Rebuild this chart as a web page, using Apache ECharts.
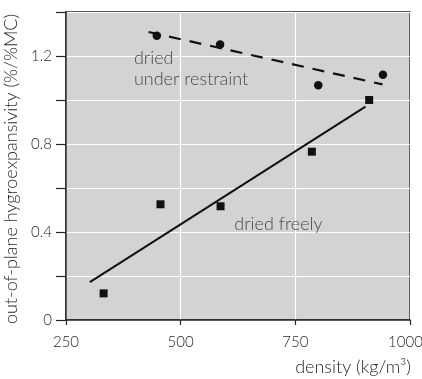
<!DOCTYPE html>
<html>
<head>
<meta charset="utf-8">
<script src="https://cdn.jsdelivr.net/npm/echarts@6/dist/echarts.min.js"></script>
<style>html,body{margin:0;padding:0;background:#fff}#c{width:422px;height:379px}</style>
</head>
<body>
<div id="c"></div>
<script>
const restraintPoints = [[448, 1.292], [586, 1.252], [800, 1.067], [941, 1.115]];
const freelyPoints = [[332, 0.121], [456, 0.526], [587, 0.517], [786, 0.765], [911, 1.0]];
const restraintFit = [[430, 1.309], [940, 1.071]];
const freelyFit = [[302, 0.172], [903, 0.970]];
const yTickLabels = {0: '0', 0.4: '0.4', 0.8: '0.8', 1.2: '1.2'};
const xTickLabels = [250, 500, 750, 1000];
const annotations = [
  {value: [398, 1.144], text: 'dried\nunder restraint'},
  {value: [617, 0.435], text: 'dried freely'}
];

const FONT = 'Lato';
const TXT = '#262626';
const chart = echarts.init(document.getElementById('c'), null, {renderer: 'canvas'});
chart.setOption({
  animation: false,
  grid: {left: 66, right: 12, top: 12, bottom: 59, outerBoundsMode: 'none', containLabel: false,
    show: true, backgroundColor: '#d3d3d3', borderColor: '#262626', borderWidth: 1.5},
  xAxis: {
    type: 'value', min: 250, max: 1000, interval: 250,
    axisLine: {show: true, onZero: false, lineStyle: {color: '#262626', width: 1.5}},
    axisTick: {show: true, inside: false, length: 5, lineStyle: {color: '#262626', width: 1.2}},
    axisLabel: {color: TXT, fontFamily: FONT, fontWeight: 300, fontSize: 15, margin: 15,
      formatter: v => xTickLabels.includes(v) ? (v === 1000 ? '{m|' + v + '}' : String(v)) : '',
      rich: {m: {color: TXT, fontFamily: FONT, fontWeight: 300, fontSize: 15, padding: [0, 9, 0, 0]}}},
    splitLine: {show: true, lineStyle: {color: '#ffffff', width: 1.2}},
    name: 'density (kg/m³)', nameLocation: 'end', nameGap: 1,
    nameTextStyle: {color: TXT, fontFamily: FONT, fontWeight: 300, fontSize: 18, align: 'right', verticalAlign: 'top', padding: [38, 0, 0, 0]}
  },
  yAxis: {
    type: 'value', min: 0, max: 1.4, interval: 0.2,
    axisLine: {show: true, lineStyle: {color: '#262626', width: 1.5}},
    axisTick: {show: true, inside: false, length: 10, lineStyle: {color: '#262626', width: 1.2}},
    axisLabel: {color: TXT, fontFamily: FONT, fontWeight: 300, fontSize: 15, margin: 14, showMaxLabel: true,
      formatter: v => { const k = Math.round(v * 10) / 10; return yTickLabels[k] !== undefined ? yTickLabels[k] : ''; }},
    splitLine: {show: true, lineStyle: {color: '#ffffff', width: 1.2}},
    name: 'out-of-plane hygroexpansivity (%/%MC)', nameLocation: 'middle', nameGap: 36,
    nameTextStyle: {color: TXT, fontFamily: FONT, fontWeight: 300, fontSize: 18, padding: [0, 6, 0, 0]}
  },
  series: [
    {type: 'line', data: freelyFit, symbol: 'none', lineStyle: {color: '#111', width: 2}, z: 3},
    {type: 'line', data: restraintFit, symbol: 'none', lineStyle: {color: '#111', width: 2.2, type: [12, 9]}, z: 3},
    {type: 'scatter', data: restraintPoints, symbol: 'circle', symbolSize: 8.5, itemStyle: {color: '#111', opacity: 1}, z: 4},
    {type: 'scatter', data: freelyPoints, symbol: 'rect', symbolSize: 8, itemStyle: {color: '#111', opacity: 1}, z: 4},
    {type: 'scatter', data: annotations, symbolSize: 0, silent: true, z: 5,
      label: {show: true, position: 'inside', formatter: p => p.data.text, color: TXT, fontFamily: FONT, fontWeight: 300, fontSize: 18,
        align: 'left', verticalAlign: 'middle', lineHeight: 21}}
  ]
});
</script>
</body>
</html>
